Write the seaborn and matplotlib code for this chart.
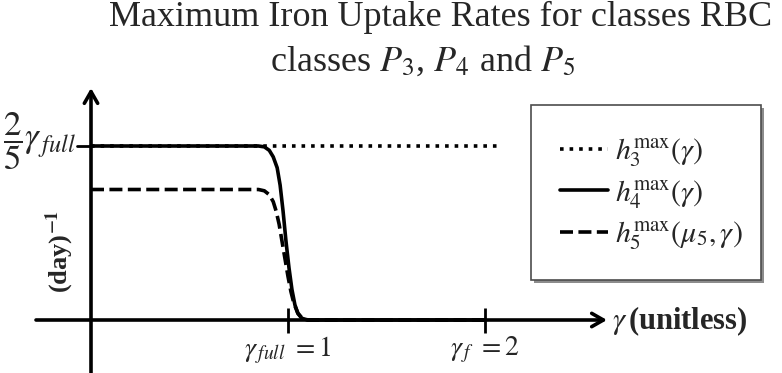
import numpy as np
import pandas as pd
import matplotlib
matplotlib.use("Agg")
import matplotlib.pyplot as plt
from matplotlib.patches import Rectangle
import seaborn as sns

# Schematic uptake-rate curves (gamma, rate)
h3_gamma = [0.0, 2.06]
h3_rate = [0.40, 0.40]

h4_gamma = [0.0, 0.85, 0.88, 0.905, 0.925, 0.945, 0.96, 0.975, 0.99, 1.005,
            1.02, 1.035, 1.05, 1.07, 1.10, 2.0]
h4_rate = [0.40, 0.40, 0.398, 0.39, 0.375, 0.35, 0.31, 0.25, 0.18, 0.12,
           0.07, 0.035, 0.015, 0.004, 0.0, 0.0]

h5_gamma = [0.0, 0.85, 0.88, 0.905, 0.925, 0.94, 0.955, 0.97, 0.985, 1.0,
            1.015, 1.03, 1.05, 1.07, 1.10, 2.0]
h5_rate = [0.30, 0.30, 0.297, 0.288, 0.272, 0.25, 0.22, 0.18, 0.14, 0.10,
           0.065, 0.038, 0.016, 0.005, 0.0, 0.0]

labels = [r"$h_3^{\max}(\gamma)$", r"$h_4^{\max}(\gamma)$",
          r"$h_5^{\max}(\mu_5,\gamma)$"]
x_ticks = [1, 2]
x_tick_labels = [r"$\gamma_{\,full}\ =1$", r"$\gamma_{\,f}\ =2$"]
y_tick = 0.4
y_tick_label = r"$\dfrac{2}{5}\gamma_{\,full}$"

sns.set_theme(style="white")
plt.rcParams["font.family"] = ["Liberation Serif", "DejaVu Serif"]
plt.rcParams["mathtext.fontset"] = "stix"

W, H = 782, 373
fig = plt.figure(figsize=(W / 100, H / 100), dpi=100)
ax = fig.add_axes([0, 0, 1, 1])

# data <-> pixel scale of the schematic
x0_px, y0_px, sx, sy = 91, 320, 197.0, 435.0
ax.set_xlim(-x0_px / sx, (W - x0_px) / sx)
ax.set_ylim((y0_px - H) / sy, y0_px / sy)
ax.axis("off")

lw = 2.6
k = dict(color="black", linewidth=lw, ax=ax, sort=False, estimator=None)
sns.lineplot(x=h3_gamma, y=h3_rate, linestyle=(0, (1, 1.65)), label=labels[0], **k)
sns.lineplot(x=h4_gamma, y=h4_rate, linestyle="-", label=labels[1], **k)
sns.lineplot(x=h5_gamma, y=h5_rate, linestyle=(0, (3.6, 1.5)), label=labels[2], **k)

# axes with arrow heads
arrow = dict(arrowstyle="->,head_length=0.7,head_width=0.4", color="black",
             linewidth=lw, shrinkA=0, shrinkB=0)
ax.annotate("", xy=((607 - x0_px) / sx, 0), xytext=((36 - x0_px) / sx, 0),
            arrowprops=arrow)
ax.annotate("", xy=(0, (y0_px - 88) / sy), xytext=(0, (y0_px - H - 5) / sy),
            arrowprops=arrow)

# tick marks
for xt, lab in zip(x_ticks, x_tick_labels):
    ax.plot([xt, xt], [(y0_px - 308) / sy, (y0_px - 333) / sy], color="black",
            linewidth=2.0, solid_capstyle="butt")
    ax.text(xt, (y0_px - 350) / sy, lab, ha="center", va="center", fontsize=20)
ax.plot([(77 - x0_px) / sx, 0], [y_tick, y_tick], color="black", linewidth=2.0)
ax.text((76 - x0_px) / sx, (y0_px - 141) / sy, y_tick_label, ha="right",
        va="center", fontsize=25)

# axis labels
ax.text((612 - x0_px) / sx, (y0_px - 321) / sy, r"$\gamma\,$(unitless)",
        ha="left", va="center", fontsize=22, fontweight="bold")
ax.text((60 - x0_px) / sx, (y0_px - 251) / sy, r"(day)$^{\mathbf{-1}}$",
        ha="center", va="center", rotation=90, fontsize=19, fontweight="bold")

# title
fig.text(441 / W, 1 - 26 / H, "Maximum Iron Uptake Rates for classes RBC",
         ha="center", va="baseline", fontsize=26)
fig.text(423 / W, 1 - 71 / H, r"classes $P_3$, $P_4$ and $P_5$",
         ha="center", va="baseline", fontsize=26)

# legend frame with drop shadow
fx, fy, fw, fh = 531, 105, 230, 175
shadow = Rectangle(((fx + 3) / W, 1 - (fy + fh + 3) / H), fw / W, fh / H,
                   transform=fig.transFigure, facecolor="0.55", edgecolor="none",
                   zorder=3, clip_on=False)
frame = Rectangle((fx / W, 1 - (fy + fh) / H), fw / W, fh / H,
                  transform=fig.transFigure, facecolor="white",
                  edgecolor="0.3", linewidth=1.2, zorder=4, clip_on=False)
ax.add_artist(shadow)
ax.add_artist(frame)

leg = ax.legend(loc="upper left", bbox_to_anchor=(560 / W, 1 - 136 / H),
                bbox_transform=fig.transFigure, frameon=False,
                fontsize=21.5, handlelength=1.6, borderpad=0,
                labelspacing=0.3, borderaxespad=0, handletextpad=0.25)
leg.set_zorder(6)

fig.savefig("out.png", dpi=100)
